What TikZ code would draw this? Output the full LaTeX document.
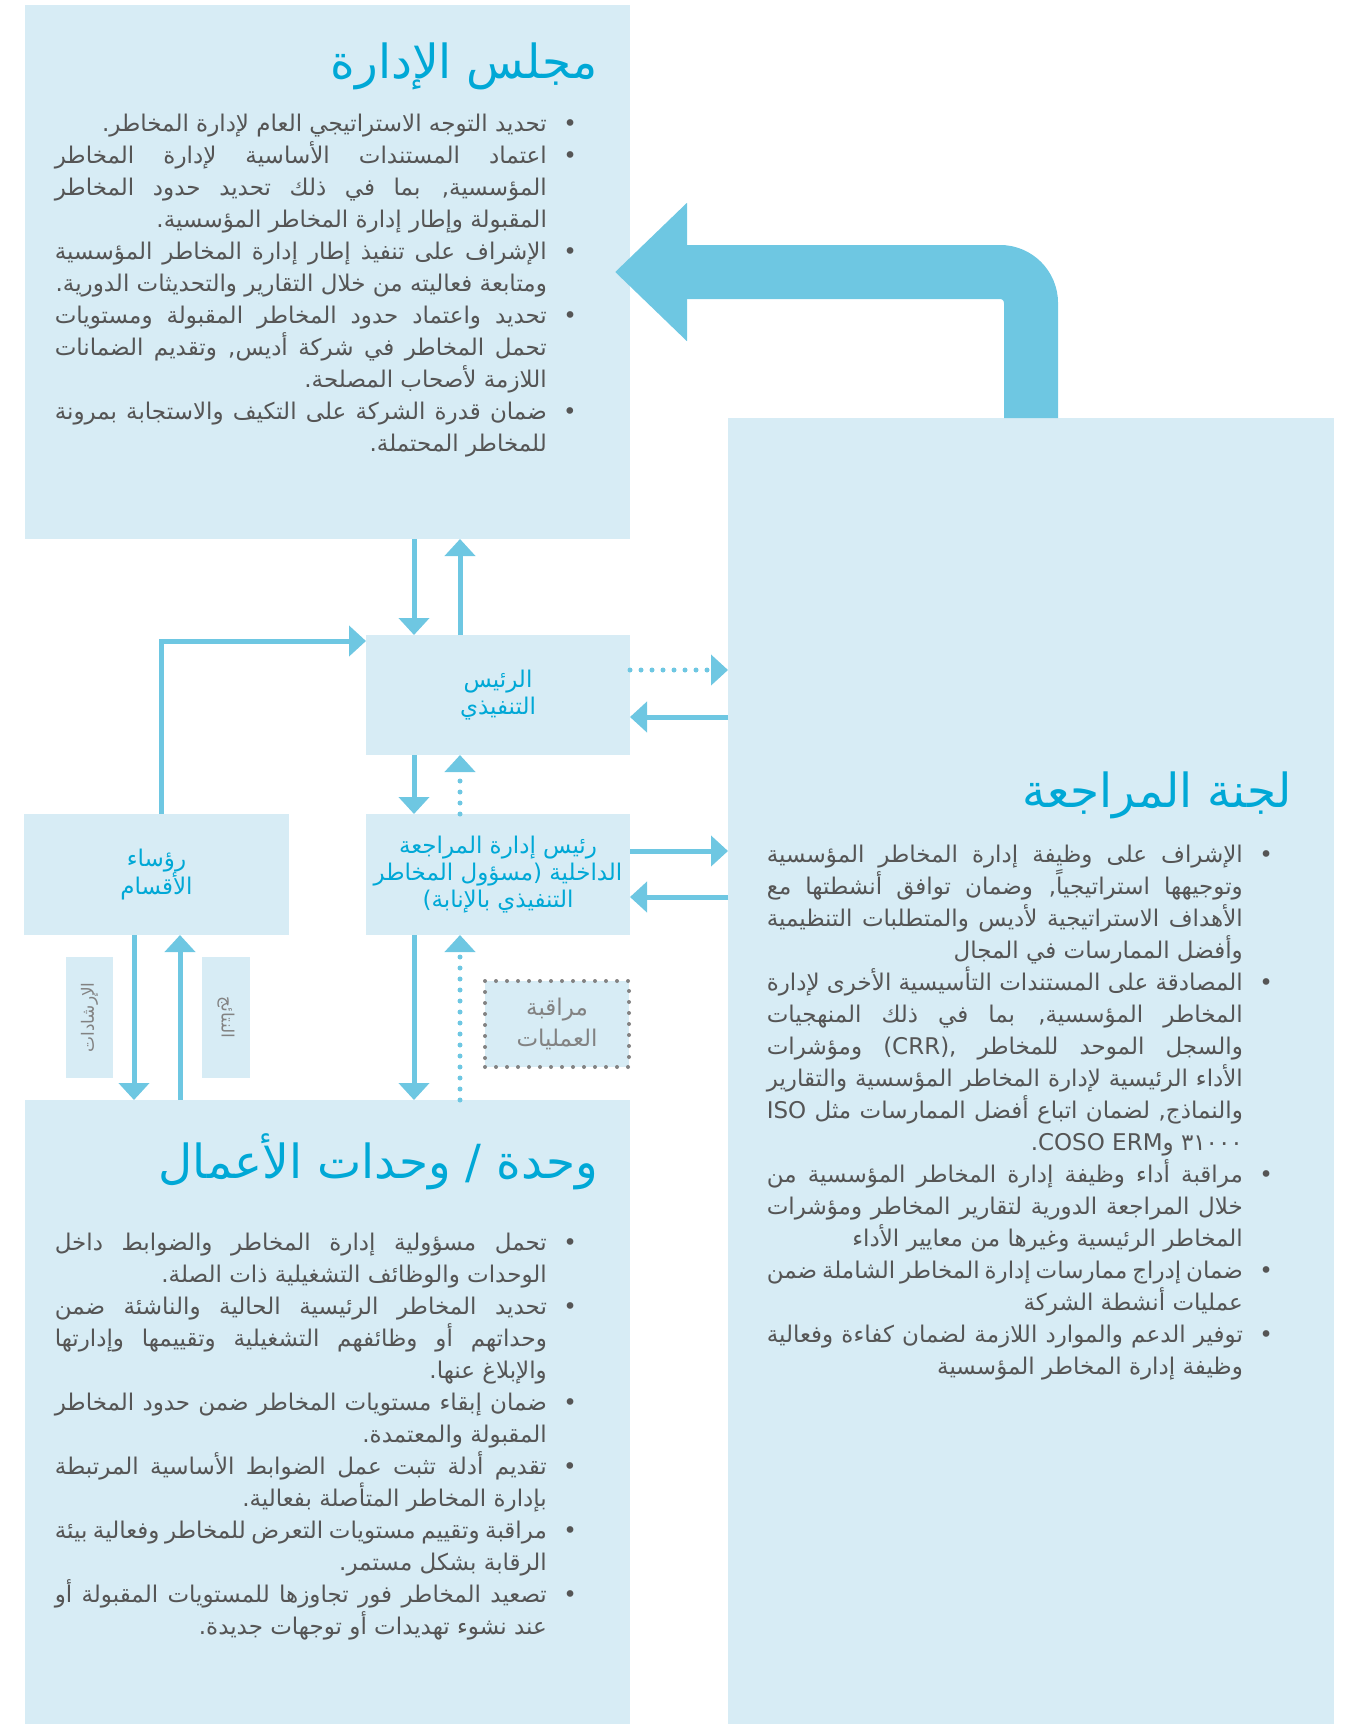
\documentclass[tikz,border=0pt]{standalone}
\usepackage{fontspec}
\newfontfamily\arabicfont[Script=Arabic]{DejaVu Sans}
\TeXXeTstate=1
\usetikzlibrary{arrows.meta,calc}
\definecolor{boxblue}{RGB}{215,236,245}
\definecolor{arrowblue}{RGB}{110,199,226}
\definecolor{titleblue}{RGB}{0,168,214}
\definecolor{bodygray}{RGB}{85,85,85}
\definecolor{labelgray}{RGB}{130,130,130}
\tikzset{
    box/.style={fill=boxblue,inner sep=0pt,outer sep=0pt,anchor=north west},
    unit label/.style={box,text=titleblue,align=center,font=\arabicfont\fontsize{23pt}{27pt}\selectfont},
    title text/.style={text=titleblue,inner sep=0pt,anchor=base east,font=\arabicfont\fontsize{47pt}{50pt}\selectfont},
    body text/.style={text=bodygray,inner sep=0pt,anchor=base east,align=justify,font=\arabicfont\fontsize{23pt}{32pt}\selectfont},
    side label/.style={box,anchor=center,text=labelgray,font=\arabicfont\fontsize{17pt}{20pt}\selectfont},
    arr/.style={arrowblue,line width=5pt,-{Triangle[length=17pt,width=30pt]}},
    dotted arr/.style={arr,line cap=round,dash pattern=on 0pt off 11pt},
    big arr/.style={arrowblue,line width=54pt,rounded corners=31pt,-{Triangle[length=72pt,width=134pt]}},
}
\newlength\bulw
\setlength\bulw{30pt}
% one bullet point, right to left, last line flush right
\newcommand\bitem[1]{\leftskip=0pt\rightskip=0pt\parfillskip=0pt
    \tolerance=9999\emergencystretch=3em
    \hangindent=-\bulw\hangafter=1
    \noindent\beginR\makebox[\bulw][l]{•}#1\nobreak\hskip0pt plus 1fil\endR\par}
\newcommand\artext[1]{\beginR#1\endR}

\begin{document}
\begin{tikzpicture}[x=1pt,y=-1pt]
    \useasboundingbox (0,0) rectangle (1345,1724);
    % the three large boxes
    \node[box,minimum width=605pt,minimum height=534pt] (board) at (25,5) {};
    \node[box,minimum width=606pt,minimum height=1306pt] (committee) at (728,418) {};
    \node[box,minimum width=605pt,minimum height=624pt] (units) at (25,1100) {};

    \node[title text] (board title) at (598,78) {\artext{مجلس الإدارة}};
    \node[title text] (committee title) at (1292,807) {\artext{لجنة المراجعة}};
    \node[title text] (units title) at (598,1178) {\artext{وحدة / وحدات الأعمال}};

    \node[body text,text width=522pt] (board body) at (577,131) {%
        \bitem{تحديد التوجه الاستراتيجي العام لإدارة المخاطر.}%
        \bitem{اعتماد المستندات الأساسية لإدارة المخاطر المؤسسية, بما في ذلك تحديد حدود المخاطر المقبولة وإطار إدارة المخاطر المؤسسية.}%
        \bitem{الإشراف على تنفيذ إطار إدارة المخاطر المؤسسية ومتابعة فعاليته من خلال التقارير والتحديثات الدورية.}%
        \bitem{تحديد واعتماد حدود المخاطر المقبولة ومستويات تحمل المخاطر في شركة أديس, وتقديم الضمانات اللازمة لأصحاب المصلحة.}%
        \bitem{ضمان قدرة الشركة على التكيف والاستجابة بمرونة للمخاطر المحتملة.}};

    \node[body text,text width=506pt] (committee body) at (1273,862) {%
        \bitem{الإشراف على وظيفة إدارة المخاطر المؤسسية وتوجيهها استراتيجياً, وضمان توافق أنشطتها مع الأهداف الاستراتيجية لأديس والمتطلبات التنظيمية وأفضل الممارسات في المجال}%
        \bitem{المصادقة على المستندات التأسيسية الأخرى لإدارة المخاطر المؤسسية, بما في ذلك المنهجيات والسجل الموحد للمخاطر (CRR), ومؤشرات الأداء الرئيسية لإدارة المخاطر المؤسسية والتقارير والنماذج, لضمان اتباع أفضل الممارسات مثل ISO ٣١٠٠٠ و\beginL COSO ERM\endL.}%
        \bitem{مراقبة أداء وظيفة إدارة المخاطر المؤسسية من خلال المراجعة الدورية لتقارير المخاطر ومؤشرات المخاطر الرئيسية وغيرها من معايير الأداء}%
        \bitem{ضمان إدراج ممارسات إدارة المخاطر الشاملة ضمن عمليات أنشطة الشركة}%
        \bitem{توفير الدعم والموارد اللازمة لضمان كفاءة وفعالية وظيفة إدارة المخاطر المؤسسية}};

    \node[body text,text width=522pt] (units body) at (577,1250) {%
        \bitem{تحمل مسؤولية إدارة المخاطر والضوابط داخل الوحدات والوظائف التشغيلية ذات الصلة.}%
        \bitem{تحديد المخاطر الرئيسية الحالية والناشئة ضمن وحداتهم أو وظائفهم التشغيلية وتقييمها وإدارتها والإبلاغ عنها.}%
        \bitem{ضمان إبقاء مستويات المخاطر ضمن حدود المخاطر المقبولة والمعتمدة.}%
        \bitem{تقديم أدلة تثبت عمل الضوابط الأساسية المرتبطة بإدارة المخاطر المتأصلة بفعالية.}%
        \bitem{مراقبة وتقييم مستويات التعرض للمخاطر وفعالية بيئة الرقابة بشكل مستمر.}%
        \bitem{تصعيد المخاطر فور تجاوزها للمستويات المقبولة أو عند نشوء تهديدات أو توجهات جديدة.}};

    % the small boxes in the middle
    \node[unit label,minimum width=264pt,minimum height=120pt] (ceo) at (366,635)
        {\artext{الرئيس}\\\artext{التنفيذي}};
    \node[unit label,minimum width=264pt,minimum height=121pt] (audit head) at (366,814)
        {\artext{رئيس إدارة المراجعة}\\\artext{الداخلية (مسؤول المخاطر}\\\artext{التنفيذي بالإنابة)}};
    \node[unit label,minimum width=265pt,minimum height=121pt] (depts) at (24,814)
        {\artext{رؤساء}\\\artext{الأقسام}};

    \node[side label,rotate=90,minimum width=121pt,minimum height=47pt] (guidance) at (89.5,1017.5)
        {\artext{الإرشادات}};
    \node[side label,rotate=-90,minimum width=121pt,minimum height=48pt] (results) at (226,1017.5)
        {\artext{النتائج}};
    \node[side label,draw=labelgray,line width=4pt,line cap=round,dash pattern=on 0pt off 11pt,
        minimum width=144pt,minimum height=86pt,align=center,
        font=\arabicfont\fontsize{23pt}{31pt}\selectfont] (ops) at (557,1024)
        {\artext{مراقبة}\\\artext{العمليات}};

    % columns and rows of the connectors
    \coordinate (c0) at (161,0);
    \coordinate (c1) at (134,0);
    \coordinate (c2) at (180,0);
    \coordinate (c3) at (414,0);
    \coordinate (c4) at (460,0);
    \coordinate (r1) at (0,670);
    \coordinate (r2) at (0,717);
    \coordinate (r3) at (0,851);
    \coordinate (r4) at (0,897);

    \draw[arr] (board.south -| c3) -- (ceo.north -| c3);
    \draw[arr] (ceo.north -| c4) -- (board.south -| c4);
    \draw[arr] (ceo.south -| c3) -- (audit head.north -| c3);
    \draw[dotted arr] (audit head.north -| c4) -- (ceo.south -| c4);
    \draw[arr] (audit head.south -| c3) -- (units.north -| c3);
    \draw[dotted arr] (units.north -| c4) -- (audit head.south -| c4);
    \draw[arr] (depts.south -| c1) -- (units.north -| c1);
    \draw[arr] (units.north -| c2) -- (depts.south -| c2);
    \draw[arr] (depts.north -| c0) |- ([yshift=-6pt]ceo.north west);

    \draw[dotted arr] (ceo.east |- r1) -- (committee.west |- r1);
    \draw[arr] (committee.west |- r2) -- (ceo.east |- r2);
    \draw[arr] (audit head.east |- r3) -- (committee.west |- r3);
    \draw[arr] (committee.west |- r4) -- (audit head.east |- r4);

    \draw[big arr] (committee.north) |- ([xshift=-15pt]board.east);
\end{tikzpicture}
\end{document}
